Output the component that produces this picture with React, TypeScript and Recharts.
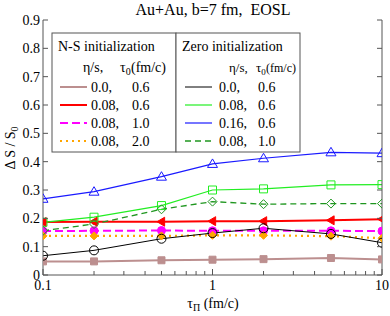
import React from 'react';
import { LineChart, Line, XAxis, YAxis, Customized } from 'recharts';

// ---------- data ----------
const tauPi = [0.1, 0.2, 0.5, 1, 2, 5, 10];

const nsEta0Tau06 = [0.048, 0.048, 0.052, 0.054, 0.056, 0.060, 0.055];
const nsEta008Tau06 = [0.187, 0.188, 0.188, 0.190, 0.190, 0.193, 0.197];
const nsEta008Tau10 = [0.155, 0.156, 0.157, 0.156, 0.156, 0.156, 0.155];
const nsEta008Tau20 = [0.138, 0.138, 0.138, 0.140, 0.140, 0.137, 0.130];

const zeroEta0Tau06 = [0.068, 0.087, 0.128, 0.148, 0.165, 0.145, 0.114];
const zeroEta008Tau06 = [0.186, 0.204, 0.245, 0.300, 0.304, 0.318, 0.319];
const zeroEta016Tau06 = [0.269, 0.294, 0.347, 0.392, 0.412, 0.433, 0.430];
const zeroEta008Tau10 = [0.156, 0.180, 0.232, 0.259, 0.250, 0.252, 0.252];

const xMajorTicks = [0.1, 1, 10];
const xMajorLabels = ['0.1', '1', '10'];
const xAllTicks = [0.1, 0.2, 0.3, 0.4, 0.5, 0.6, 0.7, 0.8, 0.9, 1, 2, 3, 4, 5, 6, 7, 8, 9, 10];
const yTicks = [0, 0.1, 0.2, 0.3, 0.4, 0.5, 0.6, 0.7, 0.8, 0.9];
const yTickLabels = ['0', '0.1', '0.2', '0.3', '0.4', '0.5', '0.6', '0.7', '0.8', '0.9'];

const titleText = 'Au+Au, b=7 fm,  EOSL';
const nsHeader = 'N-S initialization';
const zeroHeader = 'Zero initialization';
const nsLegendEta = ['0.0,', '0.08,', '0.08,', '0.08,'];
const nsLegendTau = ['0.6', '0.6', '1.0', '2.0'];
const zeroLegendEta = ['0.0,', '0.08,', '0.16,', '0.08,'];
const zeroLegendTau = ['0.6', '0.6', '0.6', '1.0'];

const data = tauPi.map((t, i) => ({
  tau: t,
  nsA: nsEta0Tau06[i],
  nsB: nsEta008Tau06[i],
  nsC: nsEta008Tau10[i],
  nsD: nsEta008Tau20[i],
  zA: zeroEta0Tau06[i],
  zB: zeroEta008Tau06[i],
  zC: zeroEta016Tau06[i],
  zD: zeroEta008Tau10[i],
}));

// ---------- styles ----------
const FONT = '"Liberation Serif", "Times New Roman", serif';
const AXIS = '#555';

type Shape = 'square' | 'circle' | 'triUp' | 'triLeft' | 'diamond';

interface SeriesStyle {
  key: string;
  color: string;
  width: number;
  dash?: string;
  shape: Shape;
  filled: boolean;
  size: number;
}

const nsSeries: SeriesStyle[] = [
  { key: 'nsA', color: '#bc8f8f', width: 2, shape: 'square', filled: true, size: 3.5 },
  { key: 'nsB', color: '#ff0000', width: 2, shape: 'triLeft', filled: true, size: 4.5 },
  { key: 'nsC', color: '#ff00ff', width: 2, dash: '8 4', shape: 'circle', filled: true, size: 4 },
  { key: 'nsD', color: '#ffa500', width: 2.2, dash: '2 4', shape: 'diamond', filled: true, size: 4 },
];
const zeroSeries: SeriesStyle[] = [
  { key: 'zA', color: '#000000', width: 1, shape: 'circle', filled: false, size: 4.5 },
  { key: 'zB', color: '#22ee22', width: 1.2, shape: 'square', filled: false, size: 4 },
  { key: 'zC', color: '#1a1aff', width: 1.2, shape: 'triUp', filled: false, size: 5 },
  { key: 'zD', color: '#1f961f', width: 1.3, dash: '6 4', shape: 'diamond', filled: false, size: 4.5 },
];

function markerPath(shape: Shape, cx: number, cy: number, s: number): string {
  switch (shape) {
    case 'square':
      return `M${cx - s},${cy - s}L${cx + s},${cy - s}L${cx + s},${cy + s}L${cx - s},${cy + s}Z`;
    case 'triUp':
      return `M${cx},${cy - s}L${cx + s},${cy + s * 0.7}L${cx - s},${cy + s * 0.7}Z`;
    case 'triLeft':
      return `M${cx - s},${cy}L${cx + s * 0.7},${cy - s}L${cx + s * 0.7},${cy + s}Z`;
    case 'diamond':
      return `M${cx},${cy - s}L${cx + s},${cy}L${cx},${cy + s}L${cx - s},${cy}Z`;
    default:
      return '';
  }
}

function makeDot(st: SeriesStyle) {
  return (props: any) => {
    const { cx, cy, index } = props;
    const k = `${st.key}-dot-${index}`;
    if (cx == null || cy == null) return <g key={k} />;
    const fill = st.filled ? st.color : 'none';
    if (st.shape === 'circle') {
      return <circle key={k} cx={cx} cy={cy} r={st.size} fill={fill} stroke={st.color} strokeWidth={1} />;
    }
    return <path key={k} d={markerPath(st.shape, cx, cy, st.size)} fill={fill} stroke={st.color} strokeWidth={1} />;
  };
}

// ---------- ticks ----------
const XTick = (props: any) => {
  const { x, y, payload } = props;
  const v = payload.value;
  const mi = xMajorTicks.findIndex((m) => Math.abs(m - v) < 1e-9);
  const major = mi >= 0;
  return (
    <g>
      <line x1={x} x2={x} y1={y} y2={y - (major ? 6 : 4)} stroke={AXIS} strokeWidth={1} />
      {major && (
        <text x={x} y={y + 15} textAnchor="middle" fontSize={14} fontFamily={FONT} fill="#000">
          {xMajorLabels[mi]}
        </text>
      )}
    </g>
  );
};

const YTickLeft = (props: any) => {
  const { x, y, payload } = props;
  const i = yTicks.findIndex((t) => Math.abs(t - payload.value) < 1e-9);
  return (
    <g>
      <line x1={x} x2={x + 5} y1={y} y2={y} stroke={AXIS} strokeWidth={1} />
      <text x={x - 3} y={y + 5} textAnchor="end" fontSize={14} fontFamily={FONT} fill="#000">
        {i >= 0 ? yTickLabels[i] : ''}
      </text>
    </g>
  );
};

const YTickRight = (props: any) => {
  const { x, y } = props;
  return <line x1={x} x2={x - 5} y1={y} y2={y} stroke={AXIS} strokeWidth={1} />;
};

// ---------- overlay (title, axis labels, legend) ----------
const legendRowBase = [92, 110, 128, 146];

const Overlay = () => {
  const t = { fontFamily: FONT, fill: '#000' } as const;
  return (
    <g>
      <text x={213} y={15} textAnchor="middle" fontSize={16} {...t} style={{ whiteSpace: 'pre' }}>
        {titleText}
      </text>
      <text transform="rotate(-90, 15, 148)" x={15} y={148} textAnchor="middle" fontSize={14} {...t}>
        {'Δ S / S'}
        <tspan fontSize={10} dy={3}>0</tspan>
      </text>
      <text x={213} y={308} textAnchor="middle" fontSize={14} {...t} style={{ whiteSpace: 'pre' }}>
        {'τ'}
        <tspan fontSize={10} dy={3}>Π</tspan>
        <tspan dy={-3}>{' (fm/c)'}</tspan>
      </text>

      {/* legend boxes */}
      <rect x={52} y={33} width={124} height={119} fill="#fff" stroke={AXIS} strokeWidth={1} />
      <rect x={176} y={33} width={124} height={119} fill="#fff" stroke={AXIS} strokeWidth={1} />

      <text x={58} y={51} fontSize={14} {...t}>{nsHeader}</text>
      <text x={83} y={72} fontSize={14} {...t}>{'η/s,'}</text>
      <text x={120} y={72} fontSize={14} {...t}>
        {'τ'}
        <tspan fontSize={10} dy={3}>0</tspan>
      </text>
      <text x={131} y={72} fontSize={14} {...t}>{'(fm/c)'}</text>

      <text x={182} y={51} fontSize={14} {...t}>{zeroHeader}</text>
      <text x={229} y={72} fontSize={13} {...t}>{'η/s,'}</text>
      <text x={256} y={72} fontSize={13} {...t}>
        {'τ'}
        <tspan fontSize={9} dy={3}>0</tspan>
      </text>
      <text x={266} y={72} fontSize={12} {...t}>{'(fm/c)'}</text>

      {nsSeries.map((s, i) => (
        <g key={s.key}>
          <line x1={60} x2={87} y1={legendRowBase[i] - 5} y2={legendRowBase[i] - 5} stroke={s.color}
            strokeWidth={s.width} strokeDasharray={s.dash} />
          <text x={91} y={legendRowBase[i]} fontSize={14} {...t}>{nsLegendEta[i]}</text>
          <text x={132} y={legendRowBase[i]} fontSize={14} {...t}>{nsLegendTau[i]}</text>
        </g>
      ))}
      {zeroSeries.map((s, i) => (
        <g key={s.key}>
          <line x1={185} x2={212} y1={legendRowBase[i] - 5} y2={legendRowBase[i] - 5} stroke={s.color}
            strokeWidth={s.width} strokeDasharray={s.dash} />
          <text x={219} y={legendRowBase[i]} fontSize={14} {...t}>{zeroLegendEta[i]}</text>
          <text x={258} y={legendRowBase[i]} fontSize={14} {...t}>{zeroLegendTau[i]}</text>
        </g>
      ))}
    </g>
  );
};

export default function App() {
  const allSeries = [...nsSeries, ...zeroSeries];
  return (
    <div style={{ position: 'absolute', left: 0, top: 0, width: 390, height: 316, background: '#fff' }}>
      <LineChart width={390} height={316} data={data} margin={{ top: 20, right: 0, bottom: 0, left: 0 }}>
        <XAxis
          dataKey="tau"
          type="number"
          scale="log"
          domain={[0.1, 10]}
          allowDataOverflow
          ticks={xAllTicks}
          interval={0}
          tickSize={0}
          tickMargin={0}
          height={41}
          axisLine={{ stroke: AXIS, strokeWidth: 1 }}
          tickLine={false}
          tick={(p: any) => <XTick {...p} />}
        />
        <XAxis
          xAxisId="top"
          orientation="top"
          dataKey="tau"
          type="number"
          scale="log"
          domain={[0.1, 10]}
          allowDataOverflow
          height={0}
          tick={false}
          tickLine={false}
          axisLine={{ stroke: AXIS, strokeWidth: 1 }}
        />
        <YAxis
          type="number"
          domain={[0, 0.9]}
          allowDataOverflow
          ticks={yTicks}
          interval={0}
          tickSize={0}
          tickMargin={0}
          width={43}
          axisLine={{ stroke: AXIS, strokeWidth: 1 }}
          tickLine={false}
          tick={(p: any) => <YTickLeft {...p} />}
        />
        <YAxis
          yAxisId="right"
          orientation="right"
          type="number"
          domain={[0, 0.9]}
          allowDataOverflow
          ticks={yTicks}
          interval={0}
          tickSize={0}
          tickMargin={0}
          width={8}
          axisLine={{ stroke: AXIS, strokeWidth: 1 }}
          tickLine={false}
          tick={(p: any) => <YTickRight {...p} />}
        />
        {allSeries.map((s) => (
          <Line
            key={s.key}
            type="linear"
            dataKey={s.key}
            stroke={s.color}
            strokeWidth={s.width}
            strokeDasharray={s.dash}
            dot={makeDot(s)}
            activeDot={false}
            isAnimationActive={false}
          />
        ))}
        <Customized component={Overlay} />
      </LineChart>
    </div>
  );
}
